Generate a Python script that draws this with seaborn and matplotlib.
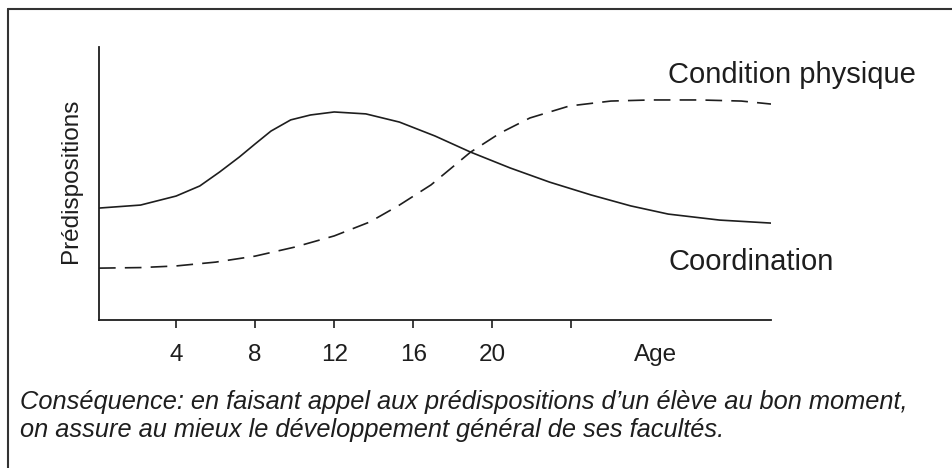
import matplotlib
matplotlib.use("Agg")
import matplotlib.pyplot as plt
from matplotlib.lines import Line2D
import seaborn as sns
import pandas as pd

# ---- data ----
coord_age = [0.1, 2.2, 4.0, 5.2, 6.2, 7.2, 8.0, 8.8, 9.8, 10.8, 12.0, 13.6, 15.3, 17.1,
             18.9, 20.9, 22.9, 25.0, 27.0, 28.9, 31.5, 34.1]
coord_val = [41.0, 42.1, 45.4, 49.1, 54.2, 59.7, 64.5, 69.2, 73.3, 75.1, 76.2, 75.5, 72.5,
             67.4, 61.5, 55.7, 50.5, 45.8, 41.8, 38.8, 36.6, 35.5]
cond_age = [0.1, 2.2, 4.0, 6.0, 8.0, 10.0, 12.0, 13.8, 15.3, 16.9, 18.9, 20.4, 21.9,
            23.9, 26.0, 28.0, 30.5, 32.6, 34.1]
cond_val = [19.0, 19.2, 19.8, 21.2, 23.4, 26.7, 30.8, 35.9, 42.1, 49.5, 61.5, 68.5, 74.0,
            78.4, 80.2, 80.6, 80.6, 80.2, 79.1]
tick_pos = [4, 8, 12, 16, 20, 24]
tick_lab = ["4", "8", "12", "16", "20", ""]
x_title = "Age"
x_title_pos = 28.25
y_title = "Prédispositions"
series = ["Coordination", "Condition physique"]
caption = ["Conséquence: en faisant appel aux prédispositions d\u2019un élève au bon moment,",
           "on assure au mieux le développement général de ses facultés."]

df = pd.concat([
    pd.DataFrame({"age": coord_age, "val": coord_val, "série": series[0]}),
    pd.DataFrame({"age": cond_age, "val": cond_val, "série": series[1]}),
])

sns.set_theme(style="white")
plt.rcParams["font.family"] = ["Liberation Sans", "DejaVu Sans"]

W, H = 952, 468
fig = plt.figure(figsize=(W / 100, H / 100), dpi=100)
ax = fig.add_axes([99 / W, (H - 320) / H, (771 - 99) / W, (320 - 47) / H])
ink = "#1e1e1e"
sns.lineplot(data=df, x="age", y="val", style="série", ax=ax, color=ink,
             linewidth=1.2, dashes={series[0]: "", series[1]: (10, 5.5)},
             legend=False, estimator=None, sort=False)
ax.set_xlim(0.1, 34.1)
ax.set_ylim(0, 100)
for s in ["top", "right"]:
    ax.spines[s].set_visible(False)
for s in ["left", "bottom"]:
    ax.spines[s].set_color(ink)
    ax.spines[s].set_linewidth(1.3)
ax.set_yticks([])
ax.set_xticks(tick_pos)
ax.set_xticklabels(tick_lab, fontsize=17.5, color=ink)
tick_len, tick_pad = 6, 11
ax.tick_params(axis="x", direction="out", length=tick_len, width=1.2, color=ink,
               pad=tick_pad, bottom=True)
ax.set_xlabel("")
ax.set_ylabel("")
ax.annotate(x_title, xy=(x_title_pos, 0), xycoords="data",
            xytext=(0, -(tick_len + tick_pad)), textcoords="offset points",
            ha="center", va="top", fontsize=17.5, color=ink)
ax.set_facecolor("white")

fig.text(71 / W, 1 - 181 / H, y_title, rotation=90, fontsize=17.5, color=ink,
         va="center", ha="center")
fig.text(668 / W, 1 - 75 / H, series[1], fontsize=21, color=ink, va="center", ha="left")
fig.text(668 / W, 1 - 262 / H, series[0], fontsize=21, color=ink, va="center", ha="left")
fig.text(20 / W, 1 - 402 / H, caption[0], fontsize=18.3, style="italic",
         color=ink, va="center", ha="left")
fig.text(20 / W, 1 - 430 / H, caption[1], fontsize=18.3, style="italic",
         color=ink, va="center", ha="left")

fig.add_artist(Line2D([8 / W, 8 / W], [0, 1 - 9 / H], transform=fig.transFigure, color="#333", lw=1.5))
fig.add_artist(Line2D([8 / W, 1], [1 - 9 / H, 1 - 9 / H], transform=fig.transFigure, color="#333", lw=1.5))

fig.savefig("out.png", dpi=100, facecolor="white")
